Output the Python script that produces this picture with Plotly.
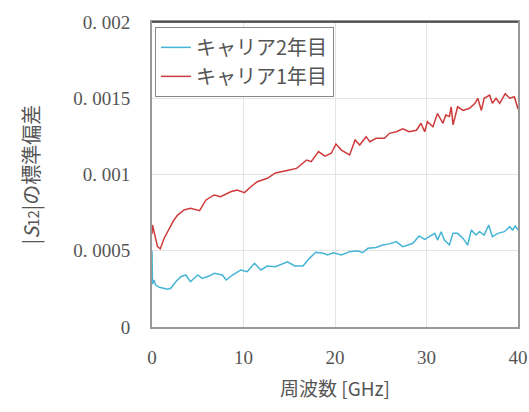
import plotly.graph_objects as go

# Frequency [GHz] and standard deviation of |S12|
f_career1 = [0.0, 0.05, 0.6, 0.9, 1.33, 1.88, 2.4, 2.8, 3.5, 4.2, 5.2, 5.9, 6.8, 7.5, 8.6, 9.3,
             10.1, 10.8, 11.5, 12.6, 13.5, 15.0, 15.8, 16.9, 17.4, 18.2, 18.9, 19.6, 20.1, 20.7,
             21.6, 22.2, 22.7, 23.4, 23.8, 24.5, 25.4, 25.96, 26.7, 27.4, 28.1, 28.9, 29.4, 29.8,
             30.1, 30.7, 31.2, 31.8, 32.1, 32.5, 32.7, 32.9, 33.4, 34.0, 34.7, 35.3, 35.6, 36.0,
             36.3, 36.9, 37.2, 37.6, 38.0, 38.6, 39.1, 39.6, 40.0]
s_career1 = [0.00061, 0.000669, 0.000527, 0.000513, 0.000582, 0.000647, 0.000702, 0.000734,
             0.000767, 0.000778, 0.000763, 0.000833, 0.000866, 0.000855, 0.000887, 0.000898,
             0.000881, 0.00092, 0.000953, 0.000975, 0.00101, 0.00103, 0.00104, 0.001095,
             0.001084, 0.00115, 0.00112, 0.001139, 0.0012, 0.00116, 0.001128, 0.001226,
             0.001193, 0.001248, 0.001215, 0.001237, 0.001237, 0.00127, 0.00128, 0.0013,
             0.00128, 0.00129, 0.001336, 0.00128, 0.001346, 0.001313, 0.0014, 0.001336,
             0.00139, 0.00138, 0.001444, 0.001325, 0.001444, 0.00142, 0.001434, 0.001467,
             0.0015, 0.00142, 0.0015, 0.00152, 0.001467, 0.0015, 0.001467, 0.00153, 0.0015,
             0.00151, 0.00143]

f_career2 = [0.0, 0.05, 0.2, 0.4, 0.8, 1.15, 1.7, 2.05, 2.6, 3.15, 3.7, 4.2, 5.0, 5.5, 6.25,
             6.8, 7.7, 8.1, 8.8, 9.7, 10.4, 11.2, 11.9, 12.6, 13.5, 14.8, 15.6, 16.5, 17.2,
             17.9, 18.7, 19.2, 19.8, 20.7, 21.6, 22.5, 23.0, 23.6, 24.5, 25.2, 25.96, 26.7,
             27.4, 28.0, 28.5, 29.2, 29.8, 30.3, 30.9, 31.2, 31.6, 31.95, 32.5, 32.9, 33.4,
             34.0, 34.5, 34.9, 35.4, 35.8, 36.3, 36.8, 37.2, 37.8, 38.5, 39.1, 39.4, 39.7, 40.0]
s_career2 = [0.0005, 0.00028, 0.000308, 0.000275, 0.00026, 0.000254, 0.000247, 0.000254,
             0.000297, 0.00033, 0.000341, 0.000297, 0.000341, 0.000319, 0.000334, 0.000352,
             0.000341, 0.000308, 0.000341, 0.000374, 0.000363, 0.000418, 0.000374, 0.0004,
             0.000395, 0.000428, 0.0004, 0.0004, 0.00045, 0.00049, 0.000483, 0.000472,
             0.000487, 0.000472, 0.000494, 0.0005, 0.000487, 0.000516, 0.000522, 0.000538,
             0.000545, 0.00056, 0.000527, 0.000538, 0.000549, 0.000597, 0.000575, 0.000592,
             0.000614, 0.00057, 0.000625, 0.00057, 0.000538, 0.000614, 0.000614, 0.000581,
             0.000538, 0.000636, 0.000603, 0.000625, 0.000603, 0.000669, 0.000592, 0.000614,
             0.000625, 0.000658, 0.000636, 0.000662, 0.000636]

x_ticks = [0, 10, 20, 30, 40]
y_ticks = [0, 0.0005, 0.001, 0.0015, 0.002]
y_tick_labels = ["0", "0. 0005", "0. 001", "0. 0015", "0. 002"]

name2 = "キャリア2年目"
name1 = "キャリア1年目"

serif = "Liberation Serif, Noto Sans CJK JP, serif"
cjk = "Noto Sans CJK JP, sans-serif"
txt = "#555555"

fig = go.Figure()
fig.add_trace(go.Scatter(x=f_career2, y=s_career2, mode="lines", name=name2,
                         line=dict(color="#45B4D6", width=1.5)))
fig.add_trace(go.Scatter(x=f_career1, y=s_career1, mode="lines", name=name1,
                         line=dict(color="#CF3A3A", width=1.5)))

fig.update_layout(
    width=529, height=412,
    margin=dict(l=152, r=11, t=22, b=85, autoexpand=False),
    paper_bgcolor="white", plot_bgcolor="white",
    font=dict(family=serif, color=txt, size=18),
    showlegend=True,
    legend=dict(x=0.008, y=0.984, xanchor="left", yanchor="top",
                bordercolor="#888888", borderwidth=1, bgcolor="white",
                font=dict(family=cjk, size=20, color=txt),
                itemwidth=30, tracegroupgap=0),
    xaxis=dict(range=[0, 40], tickvals=x_ticks, ticktext=[str(v) for v in x_ticks],
               showgrid=True, gridcolor="#e4e4e4", gridwidth=1, automargin=False,
               showline=True, linecolor="#999999", linewidth=2, mirror=True,
               zeroline=False, ticks="", ticklabelstandoff=12,
               tickfont=dict(family=serif, size=19, color=txt),
               title=dict(text="周波数 [GHz]", standoff=16,
                          font=dict(family=cjk, size=19, color=txt))),
    yaxis=dict(range=[0, 0.002], tickvals=y_ticks, ticktext=y_tick_labels,
               showgrid=True, gridcolor="#e4e4e4", gridwidth=1, automargin=False,
               showline=True, linecolor="#999999", linewidth=2, mirror=True,
               zeroline=False, ticks="", ticklabelstandoff=16,
               tickfont=dict(family=serif, size=19, color=txt),
               title=dict(text="|<i>S</i><span style='font-size:15px'>12</span>|の標準偏差",
                          standoff=28,
                          font=dict(family=cjk, size=20, color=txt))),
)
fig.add_shape(type="line", xref="paper", yref="paper", x0=0, x1=1, y0=1, y1=1,
              line=dict(color="#333333", width=1.5))

fig.write_html("out.html", config={"displayModeBar": False},
               post_script="document.body.style.margin='0';document.body.style.padding='0';")
